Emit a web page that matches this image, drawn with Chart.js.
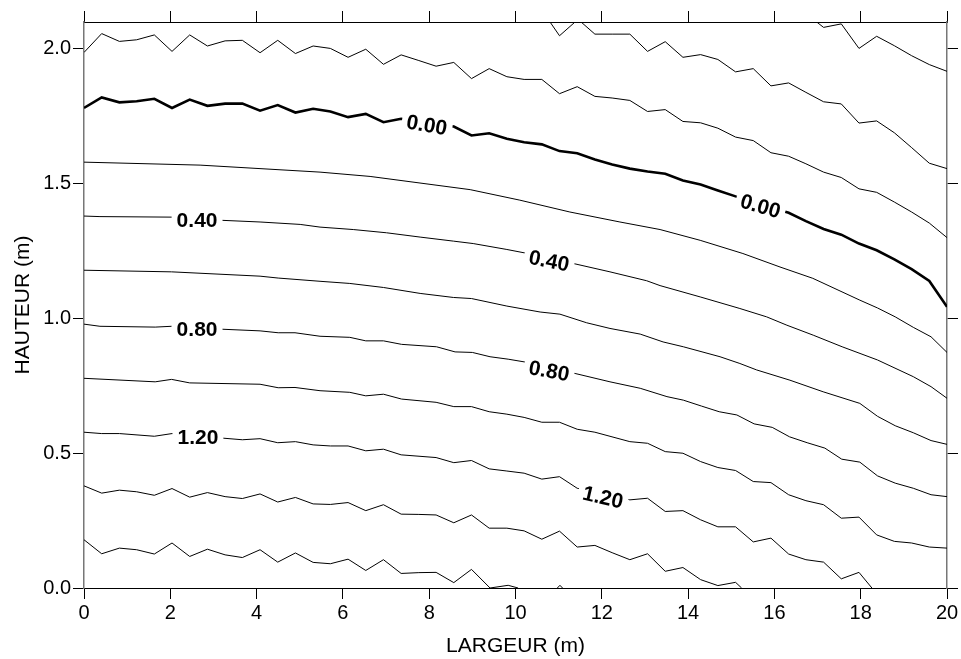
<!DOCTYPE html>
<html lang="fr">
<head>
<meta charset="utf-8">
<title>Contours</title>
<script src="https://cdn.jsdelivr.net/npm/chart.js@4.4.0/dist/chart.umd.min.js"></script>
<style>
  html, body { margin: 0; padding: 0; background: #fff; }
  #wrap { width: 961px; height: 659px; }
</style>
</head>
<body>
<div id="wrap"><canvas id="contourChart" width="961" height="659"></canvas></div>
<script>
// tick values
const xTicks = [0, 2, 4, 6, 8, 10, 12, 14, 16, 18, 20];
const yTicks = [0, 0.5, 1.0, 1.5, 2.0];

// contour lines, [largeur, hauteur]
const lineM06 = [[16.98, 2.1], [17.14, 2.080], [17.55, 2.093], [17.96, 2.002], [18.37, 2.047], [18.78, 2.012],
  [19.18, 1.975], [19.59, 1.942], [20, 1.917]];

const lineM04a = [[10.80, 2.1], [11.02, 2.049], [11.38, 2.1]];
const lineM04b = [[11.52, 2.1], [11.84, 2.055], [12.24, 2.055], [12.65, 2.055], [13.06, 1.991], [13.47, 2.027],
  [13.88, 1.969], [14.29, 1.979], [14.69, 1.961], [15.10, 1.915], [15.51, 1.927], [15.92, 1.863], [16.33, 1.874],
  [16.73, 1.839], [17.14, 1.804], [17.55, 1.796], [17.96, 1.725], [18.37, 1.733], [18.78, 1.689], [19.18, 1.634],
  [19.59, 1.576], [20, 1.556]];

const lineM02 = [[0, 1.987], [0.41, 2.057], [0.82, 2.028], [1.22, 2.034], [1.63, 2.052], [2.04, 1.991], [2.45, 2.052],
  [2.86, 2.011], [3.27, 2.030], [3.67, 2.032], [4.08, 1.986], [4.49, 2.032], [4.90, 1.983], [5.31, 2.011],
  [5.71, 2.002], [6.12, 1.969], [6.53, 1.999], [6.94, 1.943], [7.35, 1.978], [7.76, 1.957], [8.16, 1.936],
  [8.57, 1.950], [8.98, 1.890], [9.39, 1.927], [9.80, 1.897], [10.20, 1.887], [10.61, 1.887], [11.02, 1.834],
  [11.43, 1.860], [11.84, 1.824], [12.24, 1.818], [12.65, 1.809], [13.06, 1.768], [13.47, 1.775], [13.88, 1.731],
  [14.29, 1.726], [14.69, 1.706], [15.10, 1.673], [15.51, 1.660], [15.92, 1.615], [16.33, 1.602], [16.73, 1.574],
  [17.14, 1.543], [17.55, 1.523], [17.96, 1.481], [18.37, 1.468], [18.78, 1.432], [19.18, 1.395], [19.59, 1.354],
  [20, 1.300]];

const line000 = [[0, 1.781], [0.41, 1.820], [0.82, 1.802], [1.22, 1.806], [1.63, 1.815], [2.04, 1.781], [2.45, 1.812],
  [2.86, 1.789], [3.27, 1.797], [3.67, 1.797], [4.08, 1.771], [4.49, 1.792], [4.90, 1.764], [5.31, 1.778],
  [5.71, 1.768], [6.12, 1.747], [6.53, 1.759], [6.94, 1.728], [7.35, 1.741], [7.76, 1.732], [8.16, 1.722],
  [8.57, 1.712], [8.98, 1.679], [9.39, 1.687], [9.80, 1.667], [10.20, 1.654], [10.61, 1.646], [11.02, 1.621],
  [11.43, 1.613], [11.84, 1.590], [12.24, 1.571], [12.65, 1.556], [13.06, 1.545], [13.47, 1.537], [13.88, 1.512],
  [14.29, 1.497], [14.69, 1.475], [15.10, 1.453], [15.51, 1.433], [15.92, 1.412], [16.33, 1.392], [16.73, 1.361],
  [17.14, 1.332], [17.55, 1.311], [17.96, 1.278], [18.37, 1.253], [18.78, 1.219], [19.18, 1.183], [19.59, 1.139],
  [20, 1.043]];

const line020 = [[0, 1.580], [2.69, 1.569], [5.47, 1.543], [6.63, 1.527], [8.95, 1.478], [10.10, 1.439],
  [11.26, 1.395], [12.42, 1.358], [13.35, 1.330], [14.28, 1.290], [15.27, 1.241], [16.13, 1.191], [16.89, 1.149],
  [17.98, 1.068], [18.39, 1.039], [18.80, 1.006], [19.22, 0.967], [19.63, 0.932], [20, 0.874]];

const line040 = [[0, 1.380], [0.37, 1.378], [2.04, 1.376], [3.22, 1.364], [4.08, 1.358], [5.01, 1.349],
  [5.47, 1.339], [6.24, 1.330], [7.01, 1.318], [7.79, 1.302], [8.56, 1.287], [9.02, 1.278], [9.80, 1.256],
  [10.22, 1.243], [11.34, 1.204], [12.19, 1.173], [13.04, 1.140], [13.35, 1.122], [14.28, 1.080], [15.20, 1.037],
  [15.82, 1.006], [16.29, 0.975], [16.90, 0.938], [17.57, 0.895], [18.39, 0.846], [19.22, 0.784], [19.63, 0.747],
  [20, 0.704]];

const line060 = [[0, 1.179], [2.03, 1.173], [4.08, 1.157], [4.50, 1.150], [5.47, 1.138], [6.16, 1.130],
  [6.94, 1.115], [7.79, 1.093], [8.56, 1.078], [8.98, 1.074], [9.80, 1.046], [10.57, 1.024], [11.03, 1.016],
  [11.65, 0.984], [12.19, 0.963], [12.89, 0.942], [13.42, 0.913], [13.89, 0.895], [14.74, 0.858], [15.20, 0.833],
  [15.59, 0.809], [16.36, 0.771], [17.13, 0.728], [17.98, 0.685], [18.39, 0.637], [18.80, 0.602], [19.22, 0.576],
  [19.63, 0.547], [20, 0.533]];

const line080 = [[0, 0.979], [0.37, 0.971], [1.65, 0.968], [2.03, 0.971], [3.22, 0.960], [4.08, 0.954],
  [4.50, 0.947], [4.89, 0.947], [5.47, 0.934], [6.16, 0.930], [6.53, 0.917], [6.94, 0.917], [7.36, 0.904],
  [8.17, 0.895], [8.60, 0.876], [9.00, 0.874], [9.41, 0.858], [9.83, 0.849], [10.20, 0.839], [11.38, 0.796],
  [12.19, 0.765], [12.89, 0.741], [13.51, 0.710], [13.89, 0.697], [14.31, 0.675], [14.72, 0.654], [15.13, 0.642],
  [15.53, 0.609], [15.95, 0.596], [16.35, 0.561], [16.76, 0.539], [17.17, 0.519], [17.56, 0.478], [17.98, 0.467],
  [18.39, 0.416], [18.80, 0.389], [19.22, 0.370], [19.63, 0.346], [20, 0.339]];

const line100 = [[0, 0.778], [1.65, 0.765], [2.03, 0.774], [2.45, 0.761], [4.08, 0.756], [4.50, 0.743],
  [4.89, 0.744], [5.47, 0.732], [6.16, 0.726], [6.53, 0.713], [6.94, 0.719], [7.36, 0.701], [8.16, 0.689],
  [8.57, 0.673], [8.98, 0.673], [9.39, 0.654], [9.80, 0.645], [10.20, 0.633], [10.61, 0.615], [11.02, 0.615],
  [11.43, 0.589], [11.84, 0.578], [12.65, 0.543], [13.06, 0.537], [13.47, 0.506], [13.88, 0.500], [14.29, 0.469],
  [14.69, 0.447], [15.10, 0.436], [15.51, 0.395], [15.92, 0.391], [16.33, 0.346], [16.73, 0.324], [17.14, 0.309],
  [17.55, 0.259], [17.96, 0.263], [18.37, 0.197], [18.78, 0.173], [19.18, 0.167], [19.59, 0.152], [20, 0.148]];

const line120 = [[0, 0.578], [0.41, 0.573], [0.82, 0.573], [1.63, 0.563], [2.04, 0.573], [3.22, 0.556],
  [3.67, 0.550], [4.08, 0.554], [4.49, 0.539], [4.90, 0.543], [5.31, 0.531], [5.71, 0.527], [6.12, 0.527],
  [6.53, 0.509], [6.94, 0.515], [7.35, 0.494], [8.16, 0.484], [8.57, 0.465], [8.98, 0.473], [9.39, 0.442],
  [9.80, 0.434], [10.20, 0.426], [10.61, 0.404], [11.02, 0.413], [11.43, 0.370], [12.24, 0.345], [12.65, 0.327],
  [13.06, 0.333], [13.47, 0.284], [13.88, 0.287], [14.29, 0.253], [14.69, 0.227], [15.10, 0.227], [15.51, 0.171],
  [15.92, 0.185], [16.33, 0.126], [16.73, 0.105], [17.14, 0.096], [17.55, 0.034], [17.96, 0.058], [18.26, 0]];

const line140 = [[0, 0.379], [0.41, 0.352], [0.82, 0.363], [1.22, 0.357], [1.63, 0.344], [2.04, 0.369],
  [2.45, 0.337], [2.86, 0.354], [3.27, 0.339], [3.67, 0.332], [4.08, 0.349], [4.49, 0.319], [4.90, 0.336],
  [5.31, 0.312], [5.71, 0.310], [6.12, 0.317], [6.53, 0.287], [6.94, 0.309], [7.35, 0.274], [7.76, 0.273],
  [8.16, 0.271], [8.57, 0.242], [8.98, 0.271], [9.39, 0.222], [9.80, 0.222], [10.20, 0.212], [10.61, 0.181],
  [11.02, 0.211], [11.43, 0.152], [11.84, 0.158], [12.24, 0.131], [12.65, 0.105], [13.06, 0.127], [13.47, 0.062],
  [13.88, 0.076], [14.29, 0.031], [14.69, 0.009], [15.10, 0.021], [15.24, 0]];

const line160 = [[0, 0.179], [0.41, 0.127], [0.82, 0.148], [1.22, 0.142], [1.63, 0.126], [2.04, 0.167],
  [2.45, 0.117], [2.86, 0.144], [3.27, 0.123], [3.67, 0.113], [4.08, 0.142], [4.49, 0.096], [4.90, 0.130],
  [5.31, 0.095], [5.71, 0.090], [6.12, 0.107], [6.53, 0.065], [6.94, 0.105], [7.35, 0.054], [7.76, 0.057],
  [8.16, 0.058], [8.57, 0.020], [8.98, 0.069], [9.41, 0]];
const line160b = [[9.41, 0], [9.83, 0.010], [10.06, 0]];
const line160c = [[10.97, 0], [11.03, 0.010], [11.09, 0]];

const contourLines = [lineM06, lineM04a, lineM04b, lineM02, line000, line020, line040, line060,
  line080, line100, line120, line140, line160, line160b, line160c];

// inline labels: text, centre (data units), tilt in degrees
const labelTexts = ["0.00", "0.00", "0.40", "0.40", "0.80", "0.80", "1.20", "1.20"];
const labelX = [7.95, 15.68, 2.62, 10.78, 2.62, 10.78, 2.64, 12.03];
const labelY = [1.72, 1.419, 1.367, 1.216, 0.963, 0.808, 0.561, 0.339];
const labelTilt = [10, 16, 0, 11.5, 0, 10.5, 0, 13];

const FONT = '"Liberation Sans", Arial, sans-serif';

const contourLabels = {
  id: "contourLabels",
  afterDatasetsDraw(chart) {
    const ctx = chart.ctx;
    const xs = chart.scales.x;
    const ys = chart.scales.y;
    ctx.font = "bold 21px " + FONT;
    labelTexts.forEach((t, i) => {
      const px = xs.getPixelForValue(labelX[i]);
      const py = ys.getPixelForValue(labelY[i]);
      const w = ctx.measureText(t).width;
      ctx.save();
      ctx.translate(px, py);
      ctx.rotate(labelTilt[i] * Math.PI / 180);
      ctx.fillStyle = "#fff";
      ctx.fillRect(-w / 2 - 5, -9, w + 10, 18);
      ctx.fillStyle = "#000";
      ctx.textAlign = "center";
      ctx.textBaseline = "alphabetic";
      ctx.fillText(t, 0, 7.5);
      ctx.restore();
    });
  }
};

function setTicks(list) {
  return scale => { scale.ticks = list.map(v => ({ value: v })); };
}

const tickFont = { family: FONT, size: 20 };
const titleFont = { family: FONT, size: 21 };

const datasets = contourLines.map(pts => ({
  data: pts.map(p => ({ x: p[0], y: p[1] })),
  borderColor: "#000",
  borderWidth: pts === line000 ? 2.6 : 1,
  pointRadius: 0,
  fill: false,
  tension: 0
}));

new Chart(document.getElementById("contourChart"), {
  type: "line",
  data: { datasets },
  options: {
    responsive: false,
    animation: false,
    events: [],
    layout: { padding: 0 },
    plugins: { legend: { display: false }, tooltip: { enabled: false } },
    scales: {
      x: {
        type: "linear", position: "bottom", min: 0, max: 20,
        afterBuildTicks: setTicks(xTicks),
        afterFit: s => { s.height = 71; },
        ticks: { color: "#000", font: tickFont, padding: 2, maxRotation: 0, autoSkip: false },
        grid: { drawOnChartArea: false, drawTicks: true, tickLength: 11, tickColor: "#000" },
        border: { display: true, color: "#000", width: 1 },
        title: { display: true, text: "LARGEUR (m)", color: "#000", font: titleFont, padding: { top: 0, bottom: 0 } }
      },
      x2: {
        type: "linear", position: "top", min: 0, max: 20,
        afterBuildTicks: setTicks(xTicks),
        afterFit: s => { s.height = 22; },
        ticks: { display: false },
        grid: { drawOnChartArea: false, drawTicks: true, tickLength: 11, tickColor: "#000" },
        border: { display: true, color: "#000", width: 1 }
      },
      y: {
        type: "linear", position: "left", min: 0, max: 2.1,
        afterBuildTicks: setTicks(yTicks),
        afterFit: s => { s.width = 84; },
        ticks: { color: "#000", font: tickFont, padding: 2, callback: v => v.toFixed(1) },
        grid: { drawOnChartArea: false, drawTicks: true, tickLength: 11, tickColor: "#000" },
        border: { display: true, color: "#777", width: 1.5 },
        title: { display: true, text: "HAUTEUR (m)", color: "#000", font: titleFont, padding: { top: 11, bottom: 0 } }
      },
      y2: {
        type: "linear", position: "right", min: 0, max: 2.1,
        afterBuildTicks: setTicks(yTicks),
        afterFit: s => { s.width = 14; },
        ticks: { display: false },
        grid: { drawOnChartArea: false, drawTicks: true, tickLength: 11, tickColor: "#000" },
        border: { display: true, color: "#777", width: 1.5 }
      }
    }
  },
  plugins: [contourLabels]
});
</script>
</body>
</html>
